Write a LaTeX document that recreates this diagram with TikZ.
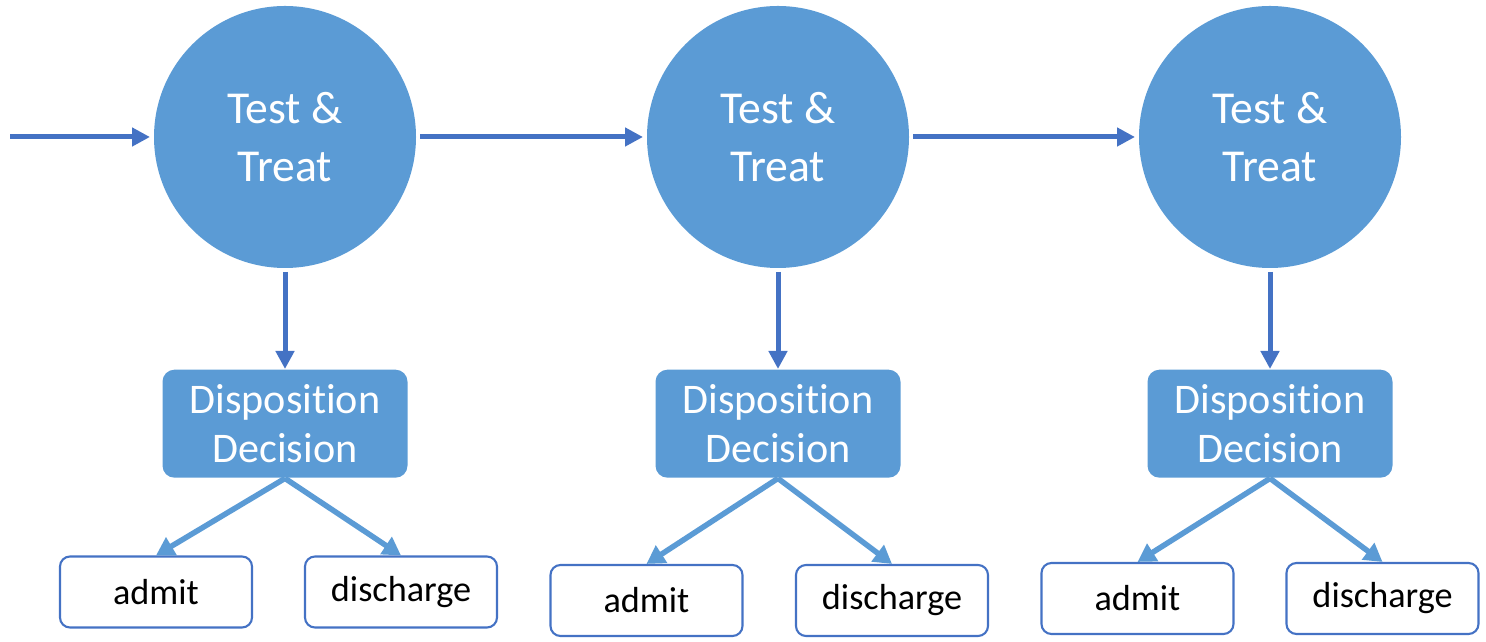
\documentclass[tikz,border=0pt]{standalone}
\usepackage{fontspec}
\setmainfont{Carlito}[Ligatures=NoCommon]
\definecolor{MyBlue}{RGB}{91,155,213}
\definecolor{MyDarkBlue}{RGB}{68,114,196}
\usetikzlibrary{arrows.meta,positioning}

\begin{document}
\begin{tikzpicture}[node distance=9.7mm, every node/.style={align=center},
stage/.style={circle,fill=MyBlue,minimum size=2.62cm,inner sep=0pt,outer sep=0.4mm,text=white,font=\fontsize{13}{16.5}\selectfont},
decision/.style={rounded corners=1.2mm,fill=MyBlue,minimum width=2.45cm,minimum height=1.08cm,inner sep=0pt,text=white,font=\fontsize{12}{14.2}\selectfont},
outcome/.style={draw=MyDarkBlue,line width=0.6pt,rounded corners=1mm,minimum width=1.92cm,minimum height=0.71cm,inner sep=0pt,font=\fontsize{10.3}{12}\selectfont},
flow/.style={-{Triangle[length=1.8mm,width=1.8mm]},line width=0.5mm,MyDarkBlue},
branch/.style={-{Triangle[length=1.8mm,width=2.0mm]},line width=0.55mm,MyBlue}]
\useasboundingbox (0,0) rectangle (14.86,-6.42);
\coordinate (start) at (0.10,-1.37);
\node[stage] (tt1) at (2.85,-1.37) {Test \&\\Treat};
\node[stage] (tt2) at (7.78,-1.37) {Test \&\\Treat};
\node[stage] (tt3) at (12.70,-1.37) {Test \&\\Treat};
\node[decision, below=of tt1] (dd1) {Disposition\\Decision};
\node[decision, below=of tt2] (dd2) {Disposition\\Decision};
\node[decision, below=of tt3] (dd3) {Disposition\\Decision};
\node[outcome] (admit1) at (1.56,-5.92) {admit};
\node[outcome] (disch1) at (4.01,-5.92) {discharge};
\node[outcome] (admit2) at (6.465,-6.005) {admit};
\node[outcome] (disch2) at (8.92,-6.005) {discharge};
\node[outcome] (admit3) at (11.375,-5.985) {admit};
\node[outcome] (disch3) at (13.825,-5.985) {discharge};
\draw[flow] (start)--(tt1);
\draw[flow] (tt1)--(tt2);
\draw[flow] (tt2)--(tt3);
\draw[flow] (tt1)--(dd1);
\draw[flow] (tt2)--(dd2);
\draw[flow] (tt3)--(dd3);
\draw[branch] (dd1.south)--(admit1.north);
\draw[branch] (dd1.south)--(disch1.north);
\draw[branch] (dd2.south)--(admit2.north);
\draw[branch] (dd2.south)--(disch2.north);
\draw[branch] (dd3.south)--(admit3.north);
\draw[branch] (dd3.south)--(disch3.north);
\end{tikzpicture}
\end{document}
